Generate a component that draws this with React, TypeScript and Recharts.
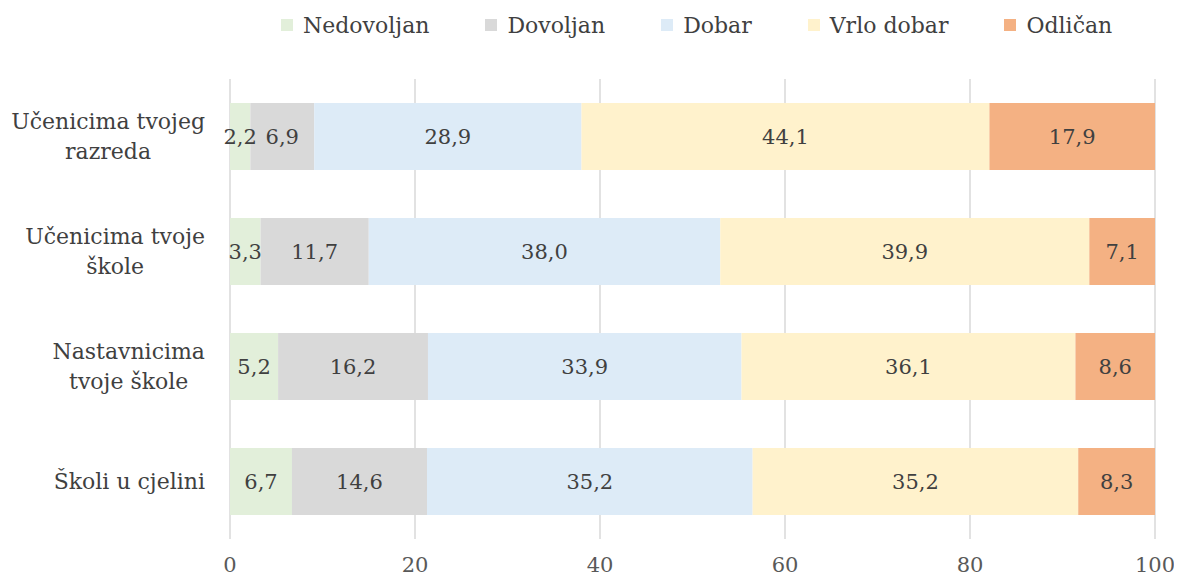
import React from 'react';
import { BarChart, Bar, XAxis, YAxis, CartesianGrid, Legend, LabelList } from 'recharts';

const categories = ['Učenicima tvojeg razreda', 'Učenicima tvoje škole', 'Nastavnicima tvoje škole', 'Školi u cjelini'];
const tickLines = [['Učenicima tvojeg', 'razreda'], ['Učenicima tvoje', 'škole'], ['Nastavnicima', 'tvoje škole'], ['Školi u cjelini']];
const nedovoljan = [2.2, 3.3, 5.2, 6.7];
const dovoljan = [6.9, 11.7, 16.2, 14.6];
const dobar = [28.9, 38.0, 33.9, 35.2];
const vrloDobar = [44.1, 39.9, 36.1, 35.2];
const odlican = [17.9, 7.1, 8.6, 8.3];
const xTicks = [0, 20, 40, 60, 80, 100];

const seriesNames = ['Nedovoljan', 'Dovoljan', 'Dobar', 'Vrlo dobar', 'Odličan'];
const seriesKeys = ['ned', 'dov', 'dob', 'vrl', 'odl'];
const seriesColors = ['#E2EFDA', '#D9D9D9', '#DDEBF7', '#FFF2CC', '#F4B183'];

const data = categories.map((c, i) => ({
  name: c,
  ned: nedovoljan[i],
  dov: dovoljan[i],
  dob: dobar[i],
  vrl: vrloDobar[i],
  odl: odlican[i],
}));

const FONT = '"DejaVu Serif", serif';
const TEXT = '#404040';

let canvasCtx: CanvasRenderingContext2D | null = null;
function measure(text: string, size: number) {
  if (!canvasCtx) {
    const c = document.createElement('canvas');
    canvasCtx = c.getContext('2d');
  }
  if (!canvasCtx) return text.length * size * 0.55;
  canvasCtx.font = `${size}px "DejaVu Serif"`;
  return canvasCtx.measureText(text).width;
}

const Y_SIZE = 22;
const YTick = (props: any) => {
  const { x, y, payload } = props;
  const idx = categories.indexOf(payload.value);
  const lines = idx >= 0 ? tickLines[idx] : [String(payload.value)];
  const maxW = Math.max(...lines.map((l) => measure(l, Y_SIZE)));
  const cx = x - maxW / 2;
  const lh = 30;
  return (
    <g>
      {lines.map((l, i) => (
        <text
          key={i}
          x={cx}
          y={y + (i - (lines.length - 1) / 2) * lh}
          textAnchor="middle"
          dominantBaseline="central"
          fontFamily={FONT}
          fontSize={Y_SIZE}
          fill={TEXT}
        >
          {l}
        </text>
      ))}
    </g>
  );
};

const LegendContent = () => (
  <div style={{ height: 34, display: 'flex', alignItems: 'center', paddingLeft: 273, fontFamily: FONT, fontSize: 22, color: TEXT, whiteSpace: 'nowrap' }}>
    {seriesNames.map((n, i) => (
      <div key={n} style={{ display: 'flex', alignItems: 'center', marginRight: 56, flexShrink: 0 }}>
        <span style={{ display: 'inline-block', width: 12, height: 12, background: seriesColors[i], marginRight: 10, flexShrink: 0 }} />
        <span style={{ whiteSpace: 'nowrap' }}>{n}</span>
      </div>
    ))}
  </div>
);

const fmt = (v: any) => Number(v).toFixed(1).replace('.', ',');

export default function App() {
  return (
    <BarChart
      width={1166}
      height={572}
      data={data}
      layout="vertical"
      margin={{ top: 37, right: 19, bottom: 11, left: 0 }}
      barCategoryGap={24}
    >
      <Legend verticalAlign="top" content={<LegendContent />} wrapperStyle={{ top: 0, left: 0, width: 1166 }} />
      <CartesianGrid horizontal={false} stroke="#D9D9D9" strokeWidth={1.5} />
      <XAxis
        type="number"
        domain={[0, 100]}
        ticks={xTicks}
        axisLine={false}
        tickLine={false}
        tickSize={0}
        tickMargin={18}
        height={30}
        tick={{ fontFamily: FONT, fontSize: 21, fill: '#595959' }}
      />
      <YAxis
        type="category"
        dataKey="name"
        width={222}
        axisLine={false}
        tickLine={false}
        tickSize={0}
        tickMargin={25}
        tick={<YTick />}
      />
      {seriesKeys.map((k, i) => (
        <Bar key={k} dataKey={k} name={seriesNames[i]} stackId="a" fill={seriesColors[i]} isAnimationActive={false}>
          <LabelList dataKey={k} position="center" formatter={fmt} fill={TEXT} fontFamily={FONT} fontSize={21} />
        </Bar>
      ))}
    </BarChart>
  );
}
